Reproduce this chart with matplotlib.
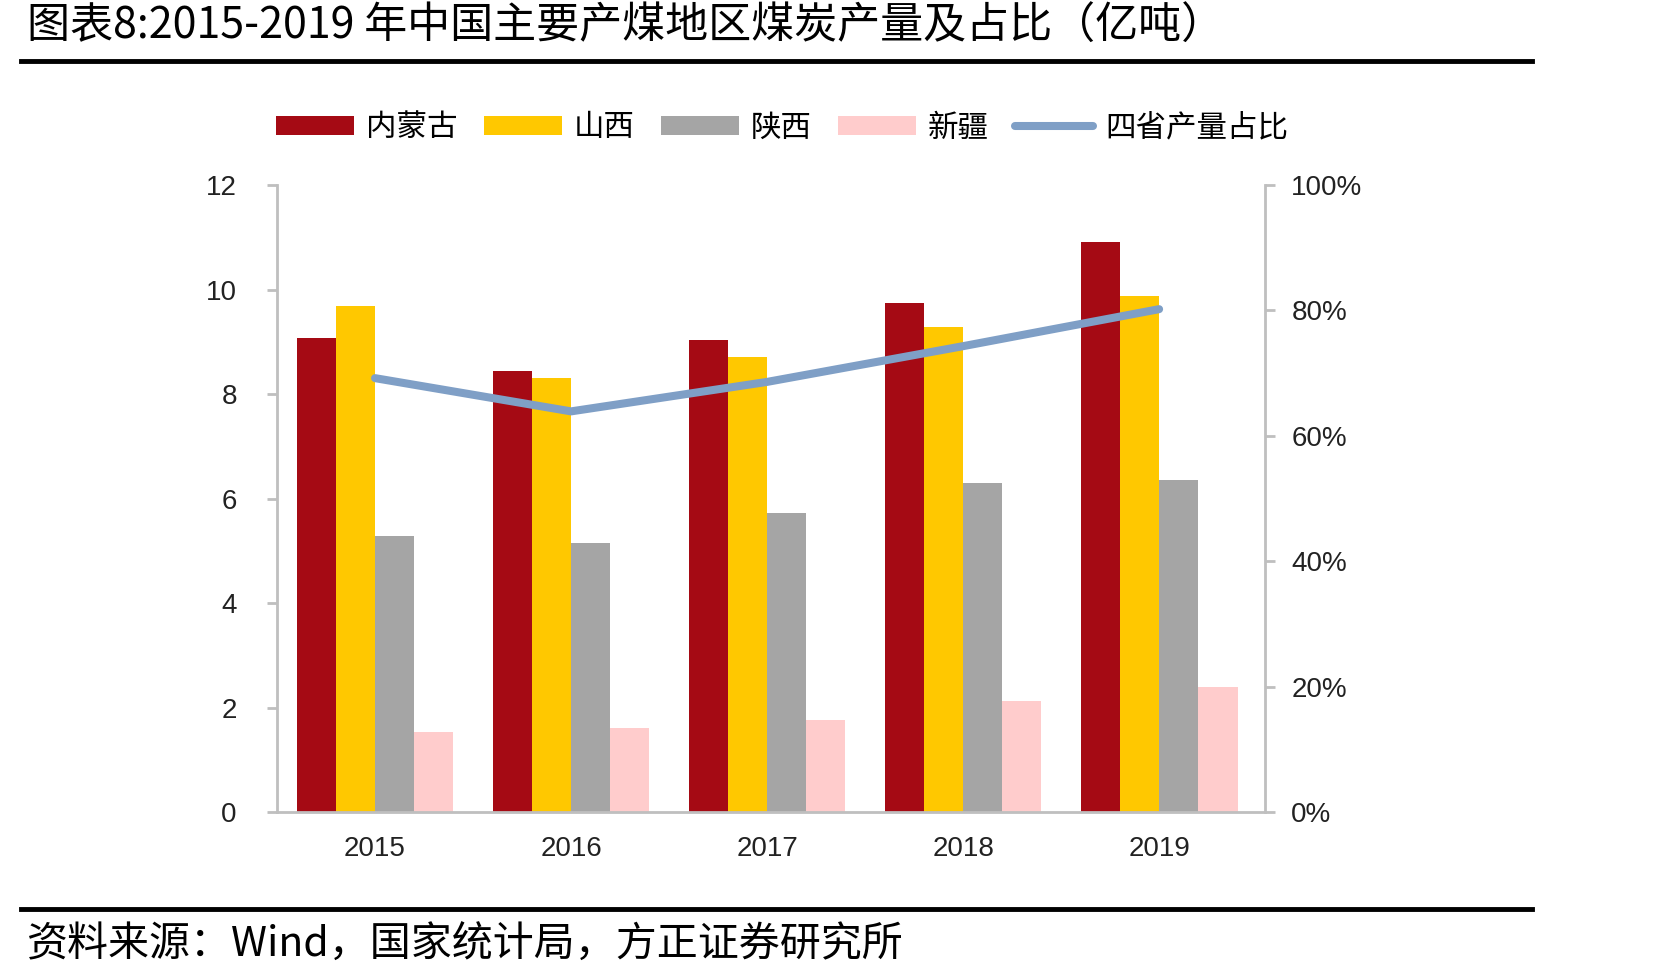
import matplotlib
matplotlib.use("Agg")
import matplotlib.pyplot as plt
import numpy as np
from matplotlib.ticker import FuncFormatter

plt.rcParams["font.family"] = ["Noto Sans CJK SC", "DejaVu Sans"]

years = ["2015", "2016", "2017", "2018", "2019"]
neimenggu = [9.08, 8.45, 9.04, 9.75, 10.90]
shanxi = [9.69, 8.30, 8.71, 9.28, 9.88]
shaanxi = [5.28, 5.15, 5.73, 6.30, 6.36]
xinjiang = [1.53, 1.60, 1.76, 2.13, 2.39]
share = [0.692, 0.639, 0.686, 0.743, 0.802]

series = [
    ("内蒙古", neimenggu, "#A50A14"),
    ("山西", shanxi, "#FFC800"),
    ("陕西", shaanxi, "#A5A5A5"),
    ("新疆", xinjiang, "#FFCCCC"),
]

spine_color = "#BFBFBF"
num_font = ["Liberation Sans", "DejaVu Sans"]

fig = plt.figure(figsize=(16.71, 9.8), dpi=100)
ax = fig.add_axes([0.1658, 0.1714, 0.757 - 0.1658, 0.8112 - 0.1714])

x = np.arange(len(years))
width = 0.2
handles = []
for i, (name, vals, color) in enumerate(series):
    b = ax.bar(x + (i - 1.5) * width, vals, width, color=color, label=name, zorder=2)
    handles.append(b)

ax.set_xlim(-0.5, 4.54)
ax.set_ylim(0, 12)
ax.set_yticks([0, 2, 4, 6, 8, 10, 12])
ax.set_xticks(x)
ax.set_xticklabels(years, fontsize=20, family=["Liberation Sans Narrow", "Liberation Sans", "DejaVu Sans"])
for lab in ax.get_yticklabels():
    lab.set_fontsize(20)
    lab.set_family(num_font)

for side in ["top", "right"]:
    ax.spines[side].set_visible(False)
for side in ["left", "bottom"]:
    ax.spines[side].set_color(spine_color)
    ax.spines[side].set_linewidth(2)
ax.tick_params(axis="y", colors=spine_color, labelcolor="#222222", length=7, width=2, pad=22)
ax.tick_params(axis="x", length=0, labelcolor="#222222", pad=17)

ax2 = ax.twinx()
ax2.set_ylim(0, 1.0)
ax2.set_yticks([0, 0.2, 0.4, 0.6, 0.8, 1.0])
ax2.yaxis.set_major_formatter(FuncFormatter(lambda v, p: f"{v * 100:.0f}%"))
line, = ax2.plot(x, share, color="#7F9FC6", linewidth=5.8, solid_capstyle="round",
                 label="四省产量占比", zorder=3)
for side in ["top", "left", "bottom"]:
    ax2.spines[side].set_visible(False)
ax2.spines["right"].set_color(spine_color)
ax2.spines["right"].set_linewidth(2)
ax2.tick_params(axis="y", colors=spine_color, labelcolor="#222222", length=7, width=2, pad=12)
for lab in ax2.get_yticklabels():
    lab.set_fontsize(20)
    lab.set_family(num_font)

fig.legend(handles + [line], [s[0] for s in series] + ["四省产量占比"],
           loc="center left", bbox_to_anchor=(276 / 1671, 1 - 128 / 980), ncol=5,
           frameon=False, fontsize=22, handlelength=2.55, handleheight=0.55,
           handletextpad=0.4, columnspacing=0.85, borderaxespad=0, borderpad=0)

# title and source
fig.text(27 / 1671, 1 - 27 / 980, "图表8:2015-2019 年中国主要产煤地区煤炭产量及占比（亿吨）",
         fontsize=31, va="center", ha="left", color="black")
fig.add_artist(plt.Line2D([21 / 1671, 1532 / 1671], [1 - 61 / 980, 1 - 61 / 980],
                          color="black", linewidth=3.5))
fig.add_artist(plt.Line2D([21 / 1671, 1532 / 1671], [1 - 909 / 980, 1 - 909 / 980],
                          color="black", linewidth=3.5))
fig.text(27 / 1671, 1 - 945 / 980, "资料来源：Wind，国家统计局，方正证券研究所",
         fontsize=29.5, va="center", ha="left", color="black")

fig.savefig("out.png", dpi=100, facecolor="white")
